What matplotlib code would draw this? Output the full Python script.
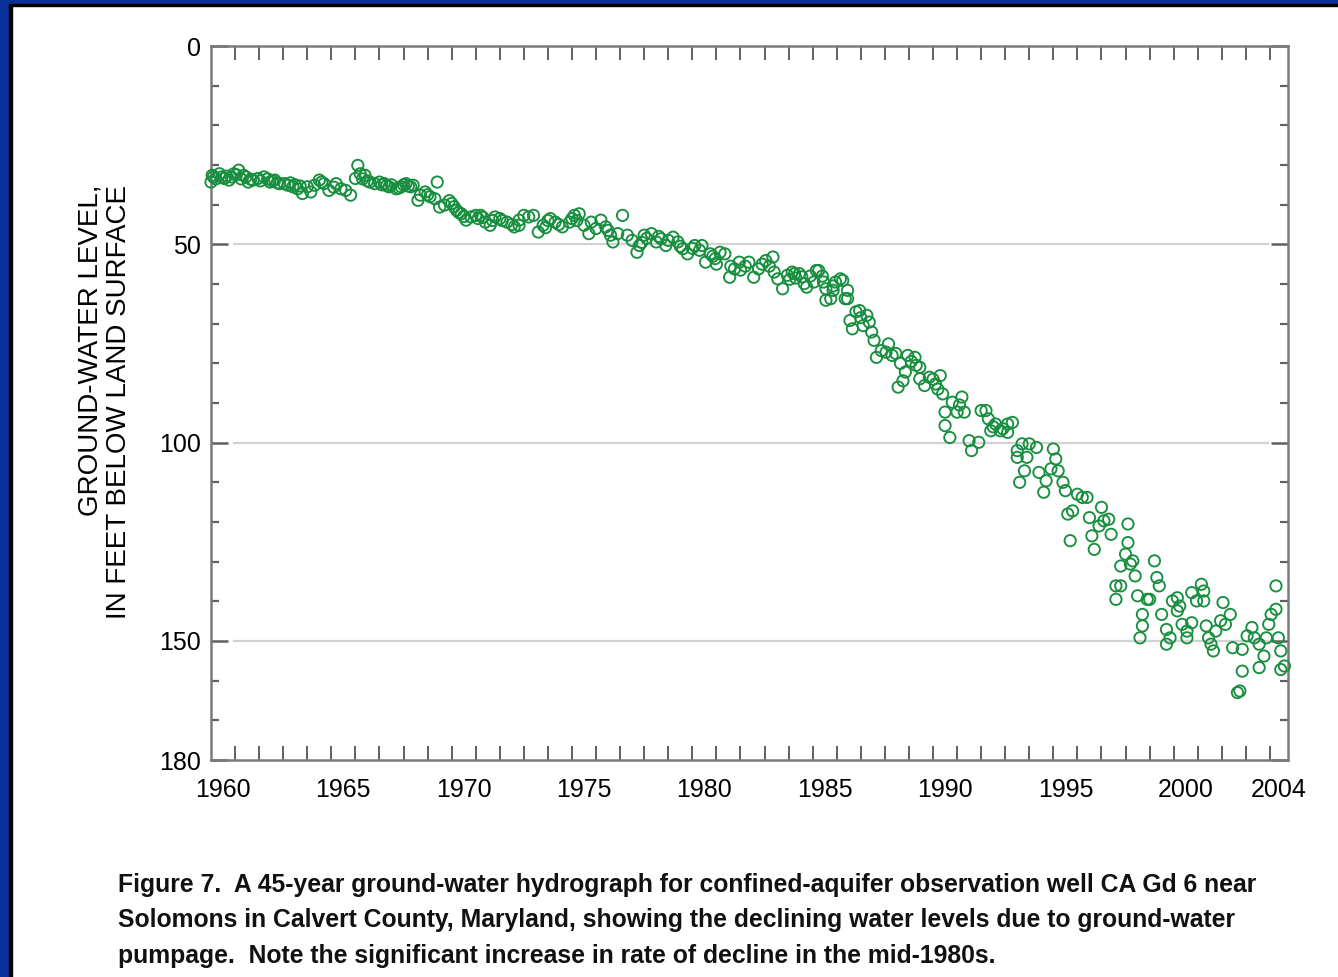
import matplotlib
matplotlib.use('Agg')
import matplotlib.pyplot as plt
from matplotlib.patches import Rectangle
from matplotlib import font_manager as fm

# ---------------- data ----------------
years = [
    1960.0, 1960.05, 1960.35, 1960.55, 1960.75, 1960.95, 1961.15, 1961.35, 1961.55, 1961.75,
    1961.95, 1962.2, 1962.45, 1962.65, 1962.85, 1963.05, 1963.2, 1963.4, 1963.6, 1963.8,
    1964.0, 1964.15, 1964.3, 1964.5, 1964.7, 1964.9, 1965.2, 1965.4, 1965.6, 1965.8,
    1966.0, 1966.1, 1966.2, 1966.4, 1966.6, 1966.8, 1967.0, 1967.2, 1967.4, 1967.7,
    1967.9, 1968.1, 1968.4, 1968.6, 1968.7, 1968.9, 1969.1, 1969.4, 1969.3, 1969.5,
    1969.7, 1970.0, 1970.2, 1970.4, 1970.6, 1970.8, 1971.0, 1971.2, 1971.4, 1971.6,
    1971.8, 1972.0, 1972.3, 1972.6, 1972.8, 1973.0,
    1960.2, 1960.45, 1960.85, 1961.05, 1961.25, 1961.45, 1962.05, 1962.35, 1962.75, 1963.3,
    1963.5, 1966.3, 1966.5, 1967.1, 1967.5, 1968.0, 1968.3, 1970.1, 1970.5, 1971.1, 1972.1,
    1960.1, 1960.65, 1961.65, 1962.55, 1963.7, 1964.6, 1965.1, 1967.3, 1967.8, 1968.2,
    1969.0, 1969.9, 1970.3, 1971.3, 1971.7, 1972.5,
    1972.8, 1973.2, 1973.4, 1973.6, 1973.8, 1974.1, 1974.3, 1974.6, 1974.9, 1975.1,
    1975.3, 1975.5, 1975.7, 1975.8, 1976.2, 1976.4, 1976.6, 1976.7, 1976.9, 1977.1,
    1977.3, 1977.5, 1977.7, 1977.8, 1978.0, 1978.3, 1978.5, 1978.7, 1978.9, 1979.2,
    1979.4, 1979.6, 1979.8, 1980.1, 1980.4, 1980.55, 1980.75, 1980.95, 1981.15, 1981.35,
    1981.55, 1981.75, 1981.95, 1982.35, 1982.55, 1982.75, 1983.05, 1983.35, 1983.55, 1983.75,
    1983.95, 1984.15, 1984.45, 1984.65, 1985.05, 1985.25, 1985.55, 1985.75, 1985.95, 1986.15,
    1986.35,
    1974.0, 1975.0, 1978.1, 1979.0, 1980.3, 1981.0, 1982.2, 1983.2, 1984.3, 1984.9,
    1973.9, 1974.45, 1975.2, 1976.0, 1976.5, 1977.9, 1978.6, 1979.5, 1980.0, 1980.85,
    1981.6, 1982.0, 1982.9, 1983.4, 1984.05, 1984.55, 1985.4, 1985.85,
    1984.25, 1984.75, 1985.15, 1985.45, 1985.55, 1985.85, 1986.25, 1986.45, 1986.45, 1986.55,
    1986.65, 1986.95, 1987.25, 1987.35, 1987.45, 1987.55, 1987.65, 1987.85, 1988.15, 1988.05,
    1988.55, 1988.75, 1988.85, 1988.95, 1989.25, 1989.45, 1989.45, 1989.65, 1989.85, 1990.1,
    1990.3, 1990.4, 1990.5, 1990.8, 1991.0, 1991.2, 1991.3, 1990.5, 1990.7, 1991.5,
    1991.6, 1991.9, 1992.0, 1992.2, 1992.4, 1992.6, 1992.8, 1993.1, 1993.3, 1993.5,
    1993.7, 1993.9,
    1987.0, 1988.3, 1988.65, 1989.1, 1990.0, 1991.1, 1992.3, 1992.9,
    1986.8, 1987.1, 1988.45, 1989.3, 1990.2, 1992.5,
    1993.1, 1993.5, 1993.8, 1993.6, 1994.0, 1994.3, 1994.4, 1994.6, 1994.7, 1994.9,
    1995.0, 1995.1, 1995.2, 1995.4, 1995.5, 1995.6, 1995.8, 1995.7, 1996.0, 1996.2,
    1996.4, 1996.5, 1996.6, 1996.7, 1996.9, 1997.0, 1997.1, 1997.3, 1997.4, 1997.6,
    1997.8, 1997.6, 1997.8, 1998.1, 1998.0, 1998.1, 1998.2, 1998.3, 1998.4, 1998.5,
    1998.7, 1998.7, 1998.6, 1998.9, 1999.0, 1999.2, 1999.3, 1999.4, 1999.5, 1999.7,
    1999.7, 1999.85, 1999.95, 2000.15, 2000.25, 2000.15, 2000.35, 2000.55, 2000.55, 2000.75,
    2000.75, 2000.95, 2001.15, 2001.25, 2001.25, 2001.35, 2001.45, 2001.55, 2001.65, 2001.75,
    2001.95, 2002.05, 2002.35, 2002.15, 2002.45, 2002.65, 2002.75, 2002.85, 2002.85, 2003.05,
    2003.25, 2003.35, 2003.55, 2003.55, 2003.75, 2003.85, 2003.95, 2004.05, 2004.25, 2004.25,
    2004.35, 2004.45, 2004.45, 2004.6,
]
depths = [
    34.3, 32.6, 32.2, 33.4, 33.8, 32.2, 31.3, 32.6, 34.3, 33.8,
    33.4, 33.0, 34.3, 33.8, 34.7, 34.7, 35.1, 35.5, 36.0, 37.2,
    35.5, 36.8, 35.1, 33.8, 34.7, 36.4, 34.7, 36.0, 36.4, 37.6,
    33.4, 30.1, 32.2, 32.6, 34.3, 34.7, 34.3, 34.7, 35.5, 36.0,
    35.5, 34.7, 35.1, 38.9, 37.6, 36.8, 38.0, 34.3, 38.5, 40.6,
    40.1, 39.7, 41.4, 42.3, 43.9, 43.1, 42.7, 42.7, 44.4, 45.2,
    43.1, 43.5, 44.4, 45.6, 43.9, 42.7,
    33.5, 33.0, 33.0, 32.5, 33.5, 33.0, 34.0, 33.5, 34.5, 34.5,
    35.0, 33.5, 34.0, 35.0, 35.0, 35.0, 35.5, 40.5, 43.0, 43.5, 44.0,
    33.0, 32.8, 33.6, 34.0, 35.3, 34.3, 35.6, 35.2, 35.8, 35.3,
    37.5, 39.0, 42.0, 43.2, 44.0, 45.0,
    45.2, 43.1, 42.7, 46.9, 45.2, 43.5, 44.4, 45.6, 44.4, 42.7,
    42.3, 45.2, 47.3, 44.4, 43.9, 45.6, 47.7, 49.4, 47.3, 42.7,
    47.7, 49.0, 52.0, 50.3, 47.7, 47.3, 49.4, 48.6, 50.3, 48.2,
    49.4, 51.1, 52.4, 50.3, 50.3, 54.5, 52.4, 53.6, 52.0, 52.4,
    58.3, 56.2, 54.5, 54.5, 58.3, 56.2, 54.1, 53.2, 58.7, 61.2,
    57.8, 57.0, 57.4, 59.9, 59.5, 56.6, 61.2, 63.7, 59.5, 58.7,
    63.7,
    44.0, 43.5, 48.5, 49.0, 51.5, 55.0, 55.5, 55.5, 58.5, 58.0,
    45.8, 45.0, 44.0, 46.0, 46.5, 49.5, 48.0, 50.5, 51.0, 53.0,
    55.5, 56.5, 55.0, 57.0, 58.8, 58.2, 58.0, 60.5,
    57.4, 60.8, 56.6, 59.5, 64.1, 61.6, 59.1, 61.6, 63.7, 69.2,
    71.3, 66.7, 67.9, 69.6, 72.1, 74.2, 78.5, 76.8, 75.1, 77.2,
    86.0, 84.4, 82.2, 78.0, 78.5, 81.0, 83.9, 85.6, 83.5, 85.2,
    83.1, 87.7, 92.3, 89.8, 92.3, 88.5, 92.3, 95.7, 98.7, 99.5,
    102.0, 99.9, 91.9, 91.9, 97.0, 95.3, 97.0, 95.3, 94.9, 102.0,
    100.3, 103.7,
    68.5, 78.0, 80.0, 79.5, 84.0, 90.5, 94.0, 96.5,
    67.0, 70.5, 77.5, 80.5, 86.5, 96.0,
    97.4, 103.7, 107.1, 110.0, 100.3, 101.2, 107.5, 112.5, 109.6, 106.6,
    101.6, 104.1, 107.1, 110.0, 112.1, 118.0, 117.2, 124.7, 113.0, 113.8,
    113.8, 118.9, 123.5, 126.9, 121.0, 116.3, 119.7, 119.3, 123.1, 136.1,
    131.1, 139.5, 136.1, 120.5, 128.1, 125.2, 130.6, 129.8, 133.6, 138.6,
    143.3, 146.2, 149.2, 139.5, 139.5, 129.8, 134.0, 136.1, 143.3, 147.1,
    150.8, 149.2, 139.9, 139.1, 141.2, 142.4, 145.8, 147.5, 149.2, 145.4,
    137.8, 139.9, 135.7, 137.4, 139.9, 146.2, 149.2, 150.8, 152.5, 147.5,
    144.9, 140.3, 143.3, 145.8, 151.7, 163.0, 162.6, 157.6, 152.1, 148.7,
    146.6, 149.2, 150.8, 156.7, 153.8, 149.2, 145.8, 143.3, 142.0, 136.1,
    149.2, 152.5, 157.2, 156.3,
]

year_ticks = list(range(1961, 2005))
year_labels = ['1960', '1965', '1970', '1975', '1980', '1985', '1990', '1995', '2000', '2004']
label_pos = [1960.5, 1965.5, 1970.5, 1975.5, 1980.5, 1985.5, 1990.5, 1995.5, 2000.5, 2004.375]
y_major = [0, 50, 100, 150, 180]
y_minor = [10, 20, 30, 40, 60, 70, 80, 90, 110, 120, 130, 140, 160, 170]
grid_levels = [50, 100, 150]

ylabel_text = 'GROUND-WATER LEVEL,\nIN FEET BELOW LAND SURFACE'
cap_bold = 'Figure 7.'
cap_line1 = '  A 45-year ground-water hydrograph for confined-aquifer observation well CA Gd 6 near'
cap_line2 = 'Solomons in Calvert County, Maryland, showing the declining water levels due to ground-water'
cap_line3 = 'pumpage.  Note the significant increase in rate of decline in the mid-1980s.'

# ---------------- styling ----------------
W, H = 1338, 977
GREEN = '#178f3f'
AXGRAY = '#7a7a7a'
TICKGRAY = '#606060'
BLUE = '#0a309c'

plt.rcParams['font.family'] = ['Liberation Sans', 'DejaVu Sans']

fig = plt.figure(figsize=(W / 100, H / 100), dpi=100)
fig.patch.set_facecolor('white')

# border (blue + black line) top and left
fig.patches.append(Rectangle((0, 0), 9 / W, 1, transform=fig.transFigure, color=BLUE, zorder=0))
fig.patches.append(Rectangle((0, 1 - 4 / H), 1, 4 / H, transform=fig.transFigure, color=BLUE, zorder=0))
fig.patches.append(Rectangle((9 / W, 0), 3 / W, 1 - 4 / H, transform=fig.transFigure, color='black', zorder=1))
fig.patches.append(Rectangle((9 / W, 1 - 6 / H), 1, 2 / H, transform=fig.transFigure, color='black', zorder=1))

ax = fig.add_axes([211 / W, 1 - 760 / H, (1288 - 211) / W, (760 - 46) / H])
ax.set_facecolor('white')

for lev in grid_levels:
    ax.axhline(lev, xmin=0.021, xmax=0.981, color='#d2d2d2', lw=1.6, zorder=1)

ax.scatter(years, depths, s=66, facecolors='none', edgecolors=GREEN,
           linewidths=1.35, clip_on=False, zorder=3)

ax.set_xlim(1960, 2004.75)
ax.set_ylim(180, 0)

for sp in ax.spines.values():
    sp.set_color(AXGRAY)
    sp.set_linewidth(1.8)

# x ticks: every year, inward on top & bottom, labels centered in the year
ax.set_xticks(year_ticks)
ax.set_xticklabels([])
ax.set_xticks(label_pos, minor=True)
ax.set_xticklabels(year_labels, minor=True)
ax.tick_params(axis='x', which='major', direction='in', top=True, bottom=True,
               length=10, width=1.4, color=TICKGRAY)
ax.tick_params(axis='x', which='minor', length=0, pad=13, labelsize=18, labelcolor='black')

# y ticks
ax.set_yticks(y_major)
ax.set_yticklabels([str(v) for v in y_major])
ax.set_yticks(y_minor, minor=True)
ax.tick_params(axis='y', which='major', direction='in', left=True, right=True,
               length=12, width=1.8, color=TICKGRAY, pad=7, labelsize=18)
ax.tick_params(axis='y', which='minor', direction='in', left=True, right=True,
               length=6, width=1.6, color=TICKGRAY)

# y-axis label
fig.text(105 / W, 1 - 402 / H, ylabel_text, rotation=90, ha='center', va='center',
         multialignment='right', fontsize=20, color='black', linespacing=1.15)

# caption
names = {f.name for f in fm.fontManager.ttflist}
cap_family = ['Liberation Sans Narrow', 'Liberation Sans'] if 'Liberation Sans Narrow' in names else ['Liberation Sans']
renderer = fig.canvas.get_renderer()

def caption(fs):
    t0 = fig.text(118 / W, 1 - 892 / H, cap_bold, fontsize=fs, fontweight='bold',
                  family=cap_family, va='baseline', ha='left', color='#111111')
    bb = t0.get_window_extent(renderer)
    t1 = fig.text(bb.x1 / W, 1 - 892 / H, cap_line1, fontsize=fs, fontweight='bold',
                  family=cap_family, va='baseline', ha='left', color='#111111')
    t2 = fig.text(118 / W, 1 - 927 / H, cap_line2, fontsize=fs, fontweight='bold',
                  family=cap_family, va='baseline', ha='left', color='#111111')
    t3 = fig.text(118 / W, 1 - 963 / H, cap_line3, fontsize=fs, fontweight='bold',
                  family=cap_family, va='baseline', ha='left', color='#111111')
    return [t0, t1, t2, t3]

fs = 18
texts = caption(fs)
right = texts[1].get_window_extent(renderer).x1
target = 1258
if abs(right - target) > 3:
    fs = fs * (target - 118) / (right - 118)
    for t in texts:
        t.remove()
    texts = caption(fs)

fig.savefig('out.png', dpi=100)
